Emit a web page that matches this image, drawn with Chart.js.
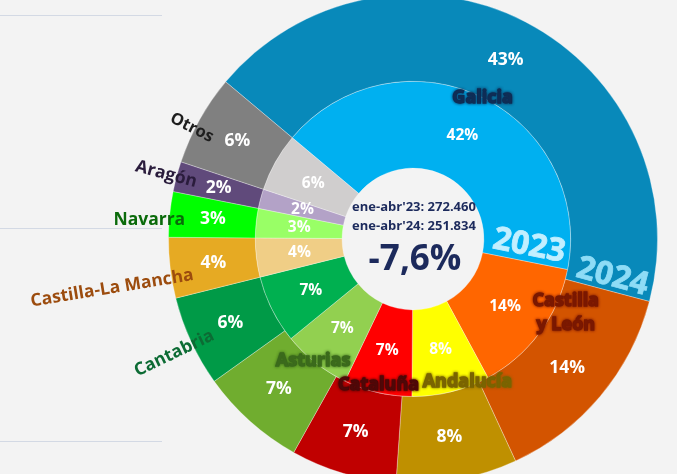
<!DOCTYPE html>
<html><head><meta charset="utf-8">
<script src="https://cdn.jsdelivr.net/npm/chart.js@4/dist/chart.umd.min.js"></script>
<style>
html,body{margin:0;padding:0;}
body{width:677px;height:474px;overflow:hidden;position:relative;background:#f3f3f3;}
#wrap{position:absolute;left:0;top:-20px;width:677px;height:520px;}
.rule{position:absolute;left:0;width:162px;height:1px;background:#d3d9e4;}
</style></head><body>
<div class="rule" style="top:15px"></div>
<div class="rule" style="top:228px"></div>
<div class="rule" style="top:441px"></div>
<div id="wrap"><canvas id="c"></canvas></div>
<script>
// ---- data ----
const regions = ['Galicia','Castilla y León','Andalucía','Cataluña','Asturias','Cantabria','Castilla-La Mancha','Navarra','Aragón','Otros'];
const share2024 = [43,14,8,7,7,6,4,3,2,6];
const share2023 = [42,14,8,7,7,7,4,3,2,6];
const seriesNames = ['2024','2023'];
const periodLabels = ["ene-abr'23","ene-abr'24"];
const periodTotals = ['272.460','251.834'];
const changeLabel = '-7,6%';

// ---- styles ----
const colors2024 = ['#0889BA','#D35400','#BF9000','#C00000','#70AD2F','#009A47','#E6AA23','#00FF00','#604A7B','#808080'];
const colors2023 = ['#00B0F0','#FF6600','#FFFF00','#FF0000','#92D050','#00B050','#F0CE86','#99FF66','#B3A2C7','#D0CECE'];
const nameColors = ['#0F2D55','#7A1800','#7A6400','#4E0808','#3B6A1C','#0C6B34','#9C4C0E','#0A6A0A','#2A1C3C','#1E1E1E'];
// placement of region names relative to each outer arc (radius fraction, angle offset in degrees)
const nameLayout = [
  {r:0.645,d:-1.2,align:'center',glow:true,size:18},
  {r:0.694,d:-14.2,align:'center',glow:true,split:' y ',size:18},
  {r:0.624,d:-10.5,align:'center',glow:true,size:18},
  {r:0.612,d:-3.3,align:'center',glow:true,size:18},
  {r:0.645,d:-2.5,align:'center',glow:true,size:18},
  {r:0.906,d:-0.8,align:'right',radial:true,size:17.5},
  {r:0.91,d:-2.5,align:'right',radial:true,size:17.5},
  {r:0.935,d:-1.0,align:'right',radial:true,rot:0,size:17.5},
  {r:0.915,d:-0.1,align:'right',radial:true,size:17.5},
  {r:0.918,d:-2.5,align:'right',radial:true,size:16.5}
];
const FONT = '"Open Sans","Noto Sans",sans-serif';
const deg = Math.PI/180;

const labelPlugin = {
  id:'labels',
  afterDatasetsDraw(chart){
    const ctx = chart.ctx;
    const outer = chart.getDatasetMeta(0).data;
    const inner = chart.getDatasetMeta(1).data;
    const cx = outer[0].x, cy = outer[0].y, R = outer[0].outerRadius;
    // percentages
    [[outer, share2024, 17.5],[inner, share2023, 15.5]].forEach(([arcs, vals, fs])=>{
      arcs.forEach((arc,i)=>{
        const p = arc.getCenterPoint();
        ctx.save();
        ctx.font = `bold ${fs}px ${FONT}`;
        ctx.fillStyle = '#fff';
        ctx.textAlign = 'center'; ctx.textBaseline = 'middle';
        ctx.fillText(vals[i]+'%', p.x, p.y);
        ctx.restore();
      });
    });
    // region names
    outer.forEach((arc,i)=>{
      const L = nameLayout[i];
      const mid = (arc.startAngle+arc.endAngle)/2 + L.d*deg;
      const x = cx + Math.cos(mid)*R*L.r, y = cy + Math.sin(mid)*R*L.r;
      ctx.save();
      ctx.translate(x,y);
      if (L.radial) ctx.rotate(L.rot!==undefined ? L.rot*deg : mid+Math.PI);
      ctx.font = `bold ${L.size}px ${FONT}`;
      ctx.fillStyle = nameColors[i];
      ctx.textAlign = L.align; ctx.textBaseline = 'middle';
      if (L.glow){ ctx.shadowColor = nameColors[i]; ctx.shadowBlur = 3; ctx.strokeStyle = nameColors[i]; ctx.lineWidth = 1.3; }
      const lines = L.split ? [regions[i].slice(0, regions[i].indexOf(L.split)), regions[i].slice(regions[i].indexOf(L.split)+1)] : [regions[i]];
      lines.forEach((t,k)=>{
        const yy = (k-(lines.length-1)/2)*24;
        if (L.glow) ctx.strokeText(t,0,yy);
        ctx.fillText(t,0,yy);
      });
      ctx.restore();
    });
    // year labels along the Galicia / Castilla y León boundary
    [[outer, seriesNames[0], -4.0, '#8EDCF6'],[inner, seriesNames[1], -7.7, '#C2EFFF']].forEach(([arcs, txt, d, col])=>{
      const a = arcs[0].endAngle;
      const r = (arcs[0].innerRadius+arcs[0].outerRadius)/2 + 2;
      const ang = a + d*deg;
      ctx.save();
      ctx.translate(cx+Math.cos(ang)*r, cy+Math.sin(ang)*r);
      ctx.rotate(a);
      ctx.font = `bold 32px ${FONT}`;
      ctx.fillStyle = col;
      ctx.strokeStyle = col; ctx.lineWidth = 0.8;
      ctx.textAlign='center'; ctx.textBaseline='middle';
      ctx.fillText(txt,0,0);
      ctx.strokeText(txt,0,0);
      ctx.restore();
    });
    // centre text
    ctx.save();
    ctx.fillStyle = '#1C2A5C';
    ctx.textAlign='center'; ctx.textBaseline='middle';
    ctx.font = `bold 13px ${FONT}`;
    ctx.fillText(periodLabels[0]+': '+periodTotals[0], cx+1, cy-32);
    ctx.fillText(periodLabels[1]+': '+periodTotals[1], cx+1, cy-13);
    ctx.font = `bold 35px ${FONT}`;
    ctx.fillText(changeLabel, cx+2, cy+21);
    ctx.restore();
  }
};

new Chart(document.getElementById('c'), {
  type:'doughnut',
  data:{
    labels: regions,
    datasets:[
      {label:seriesNames[0], data:share2024, backgroundColor:colors2024},
      {label:seriesNames[1], data:share2023, backgroundColor:colors2023}
    ]
  },
  options:{
    responsive:true, maintainAspectRatio:false, animation:false,
    rotation:-50, cutout:'29%',
    layout:{padding:{left:168,right:19,top:14,bottom:16}},
    elements:{arc:{borderWidth:1,borderColor:'rgba(255,255,255,0.3)',hoverBorderWidth:1,offset:0,hoverOffset:0}},
    plugins:{legend:{display:false},tooltip:{enabled:false}},
    events:[]
  },
  plugins:[labelPlugin]
});
</script>
</body></html>
